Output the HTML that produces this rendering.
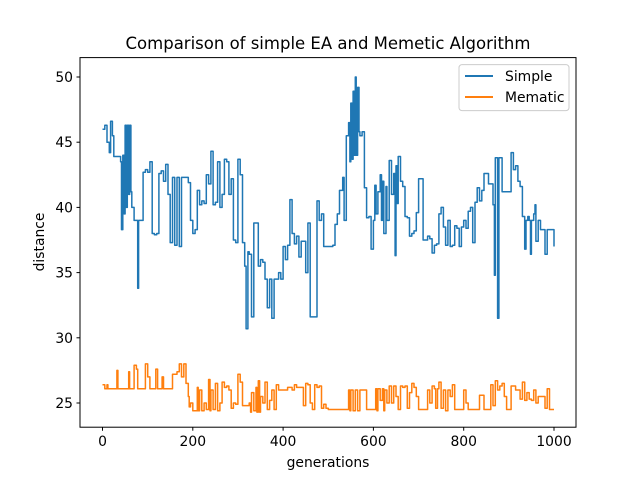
<!DOCTYPE html>
<html><head><meta charset="utf-8"><style>
body{margin:0;background:#fff;}
svg{display:block;font-family:"DejaVu Sans","Liberation Sans",sans-serif;}
</style></head><body>
<svg id="chart" width="640" height="480" viewBox="0 0 640 480" xmlns="http://www.w3.org/2000/svg">
<rect width="640" height="480" fill="#fff"/>
<text x="328" y="49" text-anchor="middle" font-size="16.5">Comparison of simple EA and Memetic Algorithm</text>
<g id="plot"></g>
<rect x="80" y="57.6" width="496" height="369.6" fill="none" stroke="#000" stroke-width="1"/>
<g id="axes"></g>
<text x="328" y="467" text-anchor="middle" font-size="13.9">generations</text>
<text transform="translate(44,242) rotate(-90)" text-anchor="middle" font-size="13.9">distance</text>
<g>
<rect x="459" y="64.6" width="110" height="46" rx="3" fill="#fff" fill-opacity="0.8" stroke="#ccc"/>
<line x1="465" y1="76" x2="493" y2="76" stroke="#1f77b4" stroke-width="2"/>
<text x="505" y="81" font-size="13.9">Simple</text>
<line x1="465" y1="97" x2="493" y2="97" stroke="#ff7f0e" stroke-width="2"/>
<text x="505" y="102" font-size="13.9">Mematic</text>
</g>
</svg>
<script>
const xTicks=[0,200,400,600,800,1000];
const yTicks=[25,30,35,40,45,50];
const simpleGen=[0,5,10,15,18,22,25,35,40,42,45,48,50,53,55,58,60,63,65,70,75,78,80,85,90,95,100,105,110,115,120,125,130,135,140,145,150,155,160,165,170,175,180,185,190,195,200,205,210,215,220,225,230,235,240,245,250,255,260,265,270,275,280,285,290,295,300,305,310,315,318,322,325,330,335,340,345,350,355,360,365,370,375,380,385,390,395,400,405,410,415,420,425,430,435,440,445,450,455,460,470,475,480,485,490,500,510,515,520,525,528,532,535,540,545,548,550,553,555,558,560,562,565,568,570,575,580,585,590,595,600,603,606,610,615,618,620,623,628,630,635,640,645,648,650,653,655,660,665,670,675,680,685,690,695,700,705,710,715,720,725,730,735,740,745,750,755,760,765,770,775,780,785,790,795,800,805,810,815,820,825,830,835,840,845,850,855,860,865,868,870,875,878,882,885,890,895,900,905,910,915,920,925,930,935,938,942,945,948,950,955,958,960,965,970,975,980,985,990,995,1000];
const simpleVal=[46,46.3,45,44.2,46.6,45.5,43.9,43.9,43.5,38.3,44,39.5,46.3,40,46.3,41,46.3,41.2,40,39,39,33.8,39,39,42.7,42.9,42.7,43.5,38,37.9,38,42.6,42.8,42,43.3,41,37.3,42.3,37.1,42.3,37,42.3,42.3,42.3,41.9,39,38,38.3,41.3,40.2,40.5,40.3,42.5,41.8,44.3,40.2,40.4,43.5,40,41,43.7,43.5,41,42.2,37.5,37.3,43.7,42.5,37.3,35.5,30.7,36.6,36.4,31.6,38.8,38.8,35.5,36,35.8,34.5,32.3,34.5,31.5,34.5,34.5,35,34.5,37,36,37.1,40.6,38,37.2,37.8,36.2,37.4,37.4,35,38.8,31.6,31.6,40.5,39,39.5,37,37,37.1,38.7,39.5,41.3,41.3,42.3,39,45.5,46.5,43.5,48,43.7,48.9,44,50,44,49.2,45.8,45.5,45.8,41.5,39.2,39.3,36.8,39,41.7,39.5,41.2,42.5,39,42,38,41.6,39,43.6,41,42.6,36.3,43.2,40.3,43.9,42,41.6,39.3,39.2,37.8,38,38.2,39.6,42.2,42.2,37.5,37.5,37.8,37.6,36.5,37.1,37.2,39.5,40,38.5,37.1,39,37,37.1,38.6,38.4,37,38.5,39,38.4,39.7,40,37.3,40.4,41.5,40.5,41.3,42.6,42.6,41.8,41.8,40.2,34.8,43.8,31.5,43.8,43.8,41.2,41.2,41.2,41.2,44.2,42.9,43.2,42,41.6,39.3,36.8,39,39.3,39,36.4,39,39.5,40.2,37.4,39,38.3,38.3,36.4,38.3,38.3,38.3,37];
const memeGen=[0,5,10,12,30,32,34,55,58,60,65,70,75,78,90,95,100,105,115,118,122,130,132,135,150,155,165,170,175,180,185,190,192,195,200,205,210,212,215,220,225,230,235,238,240,245,250,255,260,265,270,275,280,285,290,295,300,305,310,320,325,328,330,335,340,342,345,348,350,355,360,365,370,375,380,385,390,400,405,410,420,425,430,440,445,450,455,460,465,470,475,480,485,490,495,500,520,540,545,548,550,555,560,565,570,580,585,590,600,605,608,610,615,620,623,625,630,635,640,645,650,655,660,665,670,675,680,685,690,695,700,705,710,720,725,730,735,738,742,745,750,755,760,765,770,775,780,790,800,805,810,820,830,835,840,845,855,860,865,870,875,880,885,890,895,900,905,910,915,920,925,930,935,940,945,950,955,960,965,975,980,985,990,1000];
const memeVal=[26.4,26.1,26.4,26.1,26.1,27.5,26.1,26.1,27.4,26.1,26.1,27.9,27.6,26.1,26.1,28,27,26.1,26.1,27.6,26.1,26.1,27,26.1,26.1,27.2,27.4,28,27,28,26.5,25.5,24.7,25,24.4,24.4,26.2,24.4,26,24.4,25,24.5,26.8,24.4,26,24.5,26.5,24.4,25,26.6,26.2,26.3,26,24.6,25,24.9,27.2,26.6,24.8,24.8,25,24.3,25.8,24.4,26.2,24.3,26.7,24.3,25.5,25,26.6,24.5,25.2,26,24.5,26.4,26,26,26,26.2,26,26.4,26.2,26.2,24.8,26.5,26.4,25,24.5,26.4,26.2,26.3,24.6,24.9,24.6,24.5,24.5,24.5,26,24.4,26,24.4,26,24.4,26,26,24.5,24.5,24.5,26.1,24.4,26.1,25.2,26.1,24.4,26,25,26.3,25,26.3,25.5,24.5,26.3,26.2,26.3,24.6,25.8,26.5,26.2,25.5,24.5,24.5,24.5,26,25,26.3,26.1,24.6,26.1,26.6,24.6,26,24.4,26,25.5,26.4,24.5,24.5,26,25,24.5,24.5,24.5,25.6,25.6,24.5,24.5,26.4,24.8,26.7,26,26.3,26.5,25.5,24.5,24.5,26.3,26.3,26,26,25.3,26.6,25.2,25.8,25.3,25.2,26,25,25.5,25.5,24.6,26.1,24.5,24.5];

const NS='http://www.w3.org/2000/svg';
const xs=v=>102.5+v*(554-102.5)/1000;
const ys=v=>403-(v-25)*(403-77)/25;
const plot=document.getElementById('plot');
const axes=document.getElementById('axes');
function addLine(gen,val,color,name){
  let d='M'+xs(gen[0]).toFixed(1)+','+ys(val[0]).toFixed(1);
  for(let i=1;i<gen.length;i++){
    d+=' H'+xs(gen[i]).toFixed(1)+' V'+ys(val[i]).toFixed(1);
  }
  const p=document.createElementNS(NS,'path');
  p.setAttribute('d',d);
  p.setAttribute('fill','none');p.setAttribute('stroke',color);p.setAttribute('stroke-width','1.5');
  p.setAttribute('stroke-linejoin','round');
  
  
  plot.appendChild(p);
}
addLine(simpleGen,simpleVal,'#1f77b4','simple-series');
addLine(memeGen,memeVal,'#ff7f0e','memetic-series');
xTicks.forEach(t=>{
  const x=xs(t);
  const l=document.createElementNS(NS,'line');
  l.setAttribute('x1',x);l.setAttribute('x2',x);l.setAttribute('y1',427.2);l.setAttribute('y2',430.7);l.setAttribute('stroke','#000');
  
  
  axes.appendChild(l);
  const tx=document.createElementNS(NS,'text');
  tx.setAttribute('x',x);tx.setAttribute('y',446);tx.setAttribute('text-anchor','middle');tx.setAttribute('font-size','13.9');
  tx.textContent=t;
  
  
  axes.appendChild(tx);
});
yTicks.forEach(t=>{
  const y=ys(t);
  const l=document.createElementNS(NS,'line');
  l.setAttribute('x1',76.5);l.setAttribute('x2',80);l.setAttribute('y1',y);l.setAttribute('y2',y);l.setAttribute('stroke','#000');
  
  
  axes.appendChild(l);
  const tx=document.createElementNS(NS,'text');
  tx.setAttribute('x',73);tx.setAttribute('y',y+5);tx.setAttribute('text-anchor','end');tx.setAttribute('font-size','13.9');
  tx.textContent=t;
  
  
  axes.appendChild(tx);
});
</script>
</body></html>
